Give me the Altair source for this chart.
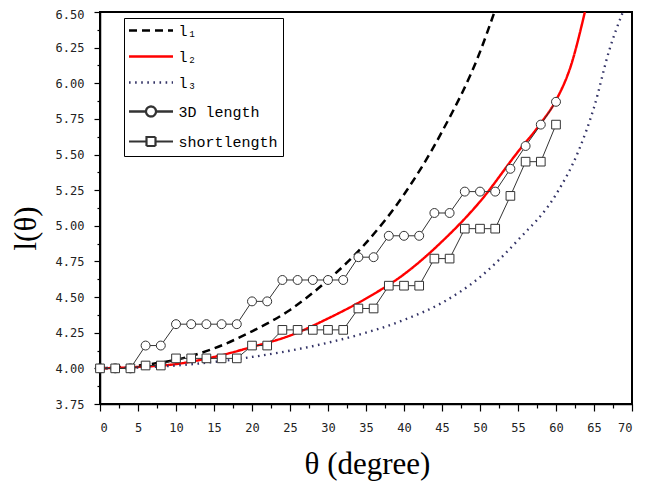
import altair as alt
import pandas as pd

# ---- data ----
theta_pts = list(range(0, 61, 2))
len_3d = [4.00, 4.00, 4.00, 4.16, 4.16, 4.31, 4.31, 4.31, 4.31, 4.31,
          4.47, 4.47, 4.62, 4.62, 4.62, 4.62, 4.62, 4.78, 4.78, 4.93,
          4.93, 4.93, 5.09, 5.09, 5.24, 5.24, 5.24, 5.40, 5.56, 5.71, 5.87]
len_short = [4.00, 4.00, 4.00, 4.02, 4.02, 4.07, 4.07, 4.07, 4.07, 4.07,
             4.16, 4.16, 4.27, 4.27, 4.27, 4.27, 4.27, 4.42, 4.42, 4.58,
             4.58, 4.58, 4.77, 4.77, 4.98, 4.98, 4.98, 5.21, 5.45, 5.45, 5.71]

l1_theta = [0, 5, 10, 15, 20, 25, 30, 35, 40, 45, 50, 51.9]
l1_val = [4.00, 4.02, 4.06, 4.14, 4.26, 4.41, 4.62, 4.88, 5.22, 5.66, 6.22, 6.50]
l2_theta = [0, 5, 10, 15, 20, 25, 30, 35, 40, 45, 50, 55, 58, 60, 62, 63.8]
l2_val = [4.00, 4.01, 4.03, 4.08, 4.15, 4.23, 4.35, 4.49, 4.66, 4.89, 5.17, 5.52, 5.72, 5.88, 6.13, 6.50]
l3_theta = [0, 10, 20, 30, 35, 40, 45, 50, 55, 60, 63, 65, 67, 68.8]
l3_val = [4.00, 4.02, 4.08, 4.18, 4.25, 4.34, 4.46, 4.64, 4.90, 5.22, 5.53, 5.83, 6.23, 6.50]

series = ["l\u2081", "l\u2082", "l\u2083", "3D length", "shortlength"]
series_colors = ["#000000", "#ff0000", "#333366", "#333333", "#333333"]
series_dash = [[8, 5], [1, 0], [1.6, 4.5], [1, 0], [1, 0]]
series_width = [2.5, 2.2, 1.6, 1, 1]
series_shape = [
    "M-4.4,0H4.4",
    "M-4.4,0H4.4",
    "M-4.4,0H4.4",
    "M-4.4,0H-1M1,0H4.4M-1,0A1,1 0 1,0 1,0A1,1 0 1,0 -1,0",
    "M-4.4,0H-0.9M0.9,0H4.4M-0.9,-0.9H0.9V0.9H-0.9Z",
]

x_ticks = [i * 2.5 for i in range(29)]
y_ticks = [3.75 + i * 0.125 for i in range(23)]

# ---- tables ----
curves = pd.concat([
    pd.DataFrame({"theta": l1_theta, "value": l1_val, "series": series[0]}),
    pd.DataFrame({"theta": l2_theta, "value": l2_val, "series": series[1]}),
    pd.DataFrame({"theta": l3_theta, "value": l3_val, "series": series[2]}),
])
meas = pd.concat([
    pd.DataFrame({"theta": theta_pts, "value": len_3d, "series": series[3]}),
    pd.DataFrame({"theta": theta_pts, "value": len_short, "series": series[4]}),
])
legend_df = pd.DataFrame({"theta": [None] * 5, "value": [None] * 5, "series": series})

X = alt.X("theta:Q",
          scale=alt.Scale(domain=[0, 70], nice=False, zero=False),
          axis=alt.Axis(values=x_ticks,
                        labelExpr="datum.value % 5 == 0 ? datum.label : ''",
                        tickSize={"condition": {"test": "datum.value % 5 == 0", "value": 7}, "value": 4},
                        labelPadding=11,
                        title="θ (degree)",
                        titleX=267, titleY=69, titleBaseline="alphabetic",
                        titleAnchor="start", titleAlign="center"))
Y = alt.Y("value:Q",
          scale=alt.Scale(domain=[3.75, 6.5], nice=False, zero=False),
          axis=alt.Axis(values=y_ticks,
                        labelExpr="datum.value * 4 == round(datum.value * 4) ? format(datum.value, '.2f') : ''",
                        tickSize={"condition": {"test": "datum.value * 4 == round(datum.value * 4)", "value": 6}, "value": 3},
                        labelOffset={"condition": {"test": "datum.value >= 6.5", "value": 2}, "value": 0},
                        labelPadding=10,
                        title="l(θ)",
                        titleX=-74, titleY=216, titleBaseline="middle",
                        titleAngle=-90, titleAlign="center"))

stroke_scale = alt.Scale(domain=series, range=series_colors)
dash_scale = alt.Scale(domain=series, range=series_dash)
width_scale = alt.Scale(domain=series, range=series_width)
shape_scale = alt.Scale(domain=series, range=series_shape)

curve_layer = alt.Chart(curves).mark_line(interpolate="monotone", clip=True).encode(
    x=X, y=Y,
    stroke=alt.Stroke("series:N", scale=stroke_scale, title=None),
    strokeDash=alt.StrokeDash("series:N", scale=dash_scale, title=None),
    strokeWidth=alt.StrokeWidth("series:N", scale=width_scale, title=None),
)

meas_lines = alt.Chart(meas).mark_line(color="#333333", strokeWidth=1).encode(
    x=X, y=Y, detail="series:N"
)

circles = alt.Chart(meas).transform_filter(
    alt.datum.series == series[3]
).mark_point(shape="circle", filled=True, fill="white", stroke="#333333",
             strokeWidth=1, size=80, opacity=1).encode(x=X, y=Y)

squares = alt.Chart(meas).transform_filter(
    alt.datum.series == series[4]
).mark_point(shape="square", filled=True, fill="white", stroke="#333333",
             strokeWidth=1, size=75, opacity=1).encode(x=X, y=Y)

legend_layer = alt.Chart(legend_df).transform_filter("false").mark_point(
    filled=True, fill="white", opacity=1
).encode(
    x=X, y=Y,
    stroke=alt.Stroke("series:N", scale=stroke_scale, title=None),
    strokeDash=alt.StrokeDash("series:N", scale=dash_scale, title=None),
    strokeWidth=alt.StrokeWidth("series:N", scale=width_scale, title=None),
    shape=alt.Shape("series:N", scale=shape_scale, title=None),
)

chart = alt.layer(curve_layer, meas_lines, circles, squares, legend_layer).properties(
    width=532, height=392,
    autosize=alt.AutoSizeParams(type="none"),
    padding={"left": 92, "top": 4, "right": 20, "bottom": 78},
).configure_view(
    stroke="black", strokeWidth=2
).configure_axis(
    grid=False, domainColor="black", domainWidth=1.5,
    tickColor="black", tickWidth=1.2,
    labelFont="DejaVu Sans Mono", labelFontSize=12, labelColor="#222222",
    titleFont="Liberation Serif", titleFontSize=31, titleFontWeight="normal",
    titleColor="black",
).configure_legend(
    orient="none", legendX=24, legendY=6, padding=5,
    strokeColor="black", fillColor="white",
    symbolSize=100, symbolOffset=14.5, labelOffset=20, rowPadding=10,
    labelFont="Liberation Mono", labelFontSize=15, labelColor="black",
    labelLimit=300,
)

chart.save("out.html", embed_options={"renderer": "svg", "actions": False})
